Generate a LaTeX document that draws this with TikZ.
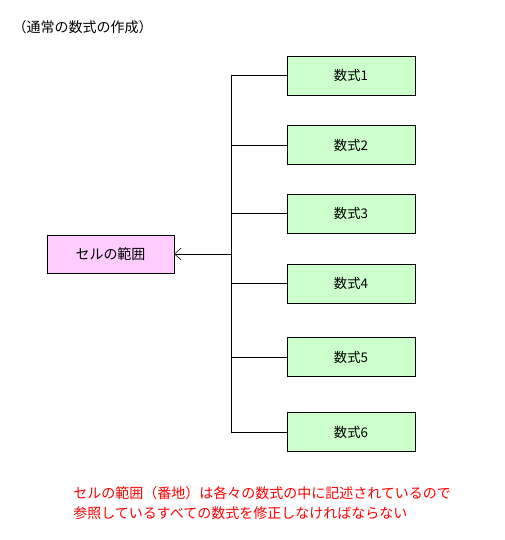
\documentclass[tikz,border=0pt]{standalone}
\usepackage{fontspec}
\usetikzlibrary{arrows.meta}
\setmainfont{Noto Sans CJK JP}
\tikzset{
  formula/.style={draw, fill=formgreen, minimum width=96pt, minimum height=29.5pt, inner sep=0pt},
  cellbox/.style={draw, fill=cellpink, minimum width=95pt, minimum height=28.5pt, inner sep=0pt},
  bigtext/.style={font=\fontsize{10.5}{15}\selectfont}
}
\definecolor{formgreen}{HTML}{CCFFCC}
\definecolor{cellpink}{HTML}{FFCCFF}
\begin{document}
\begin{tikzpicture}[x=0.75pt,y=-0.75pt,font=\fontsize{10}{15}\selectfont]
\useasboundingbox (0,0) rectangle (505,540);
\node[anchor=west, bigtext] (title) at (8,27) {（通常の数式の作成）};
\node[cellbox, bigtext] (cells) at (110.5,254) {セルの範囲};
\node[formula] (f1) at (351,75.5) {数式1};
\node[formula] (f2) at (351,145) {数式2};
\node[formula] (f3) at (351,213.5) {数式3};
\node[formula] (f4) at (351,283.5) {数式4};
\node[formula] (f5) at (351,357) {数式5};
\node[formula] (f6) at (351,432) {数式6};
\coordinate (spine) at (231,254);
\draw (f1.west) -- (f1.west -| spine) -- (f6.west -| spine) -- (f6.west);
\draw (f2.west) -- (f2.west -| spine);
\draw (f3.west) -- (f3.west -| spine);
\draw (f4.west) -- (f4.west -| spine);
\draw (f5.west) -- (f5.west -| spine);
\draw[-{Straight Barb[length=5pt,width=9pt]}] (spine) -- (cells.east);
\node[anchor=north west, align=left, text=red, inner sep=0pt, bigtext] (note) at (73,486)
  {セルの範囲（番地）は各々の数式の中に記述されているので\\参照しているすべての数式を修正しなければならない};
\end{tikzpicture}
\end{document}
